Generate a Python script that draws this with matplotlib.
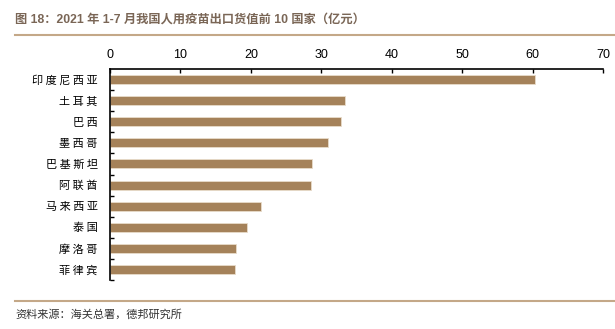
import matplotlib
matplotlib.use('Agg')
import matplotlib.pyplot as plt
from matplotlib.lines import Line2D

plt.rcParams['font.family'] = ['Noto Sans CJK SC', 'DejaVu Sans']

countries = ['印度尼西亚', '土耳其', '巴西', '墨西哥', '巴基斯坦', '阿联酋',
             '马来西亚', '泰国', '摩洛哥', '菲律宾']
values = [60.3, 33.3, 32.8, 30.9, 28.7, 28.5, 21.4, 19.5, 17.9, 17.7]
xticks = [0, 10, 20, 30, 40, 50, 60, 70]

title = '图 18：2021 年 1-7 月我国人用疫苗出口货值前 10 国家（亿元）'
source = '资料来源：海关总署，德邦研究所'

bar_color = '#a5825a'
line_color = '#c4a888'
title_color = '#7a6656'
latin_cjk = ['Liberation Sans', 'Noto Sans CJK SC']

fig = plt.figure(figsize=(6.15, 3.29), dpi=100)
ax = fig.add_axes([110 / 615, 1 - 280 / 329, (603 - 110) / 615, (280 - 69) / 329])

y = list(range(len(countries)))
ax.barh(y, values, height=0.43, color=bar_color, edgecolor='#e8dccb', linewidth=0.6)
ax.set_ylim(len(countries) - 0.5, -0.5)
ax.set_xlim(0, 70)

ax.xaxis.tick_top()
ax.set_xticks(xticks)
ax.set_xticklabels([str(t) for t in xticks], family='Liberation Sans', fontsize=9)
ax.tick_params(axis='x', direction='in', length=3, width=1, pad=6)
ax.set_yticks(y)
# spaced-out characters like the original label font
ax.set_yticklabels([' '.join(c) for c in countries], fontsize=8)
ax.tick_params(axis='y', length=0, pad=9)
ax.set_yticks([i + 0.5 for i in y], minor=True)
ax.tick_params(axis='y', which='minor', direction='in', length=3, width=1)

for s in ['right', 'bottom']:
    ax.spines[s].set_visible(False)
ax.spines['top'].set_linewidth(1.2)
ax.spines['left'].set_linewidth(1.2)

fig.text(15 / 615, 1 - 20 / 329, title, fontsize=8.8, fontweight='bold',
         color=title_color, va='center', ha='left', family=latin_cjk)
fig.add_artist(Line2D([15 / 615, 1], [1 - 35 / 329] * 2, color=line_color, lw=1.5))
fig.add_artist(Line2D([15 / 615, 1], [1 - 301 / 329] * 2, color=line_color, lw=1.5))
fig.text(15 / 615, 1 - 314 / 329, source, fontsize=8, color='#333333',
         va='center', ha='left')

fig.savefig('out.png', dpi=100)
